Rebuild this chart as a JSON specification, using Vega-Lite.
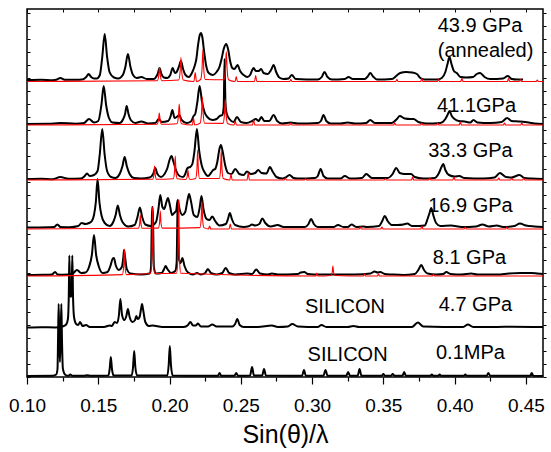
{
"$schema":"https://vega.github.io/schema/vega-lite/v6.json",
"width":516,"height":368,
"autosize":"none",
"padding":{"left":27,"top":9,"right":8,"bottom":75},
"config":{"font":"Liberation Sans","view":{"stroke":"black","strokeWidth":1.5}},
"datasets":{
"blk":[
{"s":"1","x":0.100,"y":297},{"s":"1","x":0.110,"y":297.3},{"s":"1","x":0.118,"y":296.8},{"s":"1","x":0.1205,"y":297.2},{"s":"1","x":0.1234,"y":299},{"s":"1","x":0.1265,"y":297.3},{"s":"1","x":0.134,"y":297.2},{"s":"1","x":0.1395,"y":297.8},{"s":"1","x":0.1415,"y":300},{"s":"1","x":0.1432,"y":303},{"s":"1","x":0.1450,"y":300},{"s":"1","x":0.1470,"y":298.5},{"s":"1","x":0.1490,"y":298.5},{"s":"1","x":0.1511,"y":302},{"s":"1","x":0.1528,"y":320},{"s":"1","x":0.1545,"y":343},{"s":"1","x":0.1562,"y":320},{"s":"1","x":0.1579,"y":305},{"s":"1","x":0.1610,"y":299.5},{"s":"1","x":0.1640,"y":298.5},{"s":"1","x":0.1672,"y":302},{"s":"1","x":0.1690,"y":310},{"s":"1","x":0.1708,"y":323},{"s":"1","x":0.1726,"y":310},{"s":"1","x":0.1744,"y":302},{"s":"1","x":0.1770,"y":299},{"s":"1","x":0.1802,"y":300},{"s":"1","x":0.1840,"y":298},{"s":"1","x":0.1890,"y":298},{"s":"1","x":0.1905,"y":300},{"s":"1","x":0.1917,"y":303},{"s":"1","x":0.1930,"y":309},{"s":"1","x":0.1943,"y":303},{"s":"1","x":0.1960,"y":299.5},{"s":"1","x":0.1985,"y":299},{"s":"1","x":0.2005,"y":302},{"s":"1","x":0.2022,"y":309},{"s":"1","x":0.2038,"y":304},{"s":"1","x":0.2050,"y":305},{"s":"1","x":0.2065,"y":310},{"s":"1","x":0.2080,"y":316},{"s":"1","x":0.2095,"y":308},{"s":"1","x":0.2112,"y":302},{"s":"1","x":0.2135,"y":300},{"s":"1","x":0.2160,"y":305},{"s":"1","x":0.2176,"y":311},{"s":"1","x":0.2188,"y":318},{"s":"1","x":0.2200,"y":332},{"s":"1","x":0.2212,"y":342},{"s":"1","x":0.2220,"y":344},{"s":"1","x":0.2230,"y":340},{"s":"1","x":0.2242,"y":326},{"s":"1","x":0.2256,"y":312},{"s":"1","x":0.2275,"y":304},{"s":"1","x":0.2304,"y":302},{"s":"1","x":0.2330,"y":305},{"s":"1","x":0.2350,"y":310},{"s":"1","x":0.2365,"y":318},{"s":"1","x":0.2380,"y":328},{"s":"1","x":0.2398,"y":333},{"s":"1","x":0.2412,"y":327},{"s":"1","x":0.2425,"y":316},{"s":"1","x":0.2440,"y":309},{"s":"1","x":0.2455,"y":308},{"s":"1","x":0.2477,"y":312},{"s":"1","x":0.2495,"y":306},{"s":"1","x":0.2520,"y":302},{"s":"1","x":0.2545,"y":300},{"s":"1","x":0.2565,"y":302},{"s":"1","x":0.2580,"y":307},{"s":"1","x":0.2590,"y":309},{"s":"1","x":0.2605,"y":306},{"s":"1","x":0.2625,"y":306},{"s":"1","x":0.2643,"y":308},{"s":"1","x":0.2660,"y":304},{"s":"1","x":0.2690,"y":303},{"s":"1","x":0.2712,"y":307},{"s":"1","x":0.2730,"y":312},{"s":"1","x":0.2748,"y":305},{"s":"1","x":0.2770,"y":299.5},{"s":"1","x":0.2800,"y":298},{"s":"1","x":0.2835,"y":298.5},{"s":"1","x":0.2858,"y":302},{"s":"1","x":0.2885,"y":298},{"s":"1","x":0.3040,"y":297.5},{"s":"1","x":0.3068,"y":300},{"s":"1","x":0.3087,"y":305},{"s":"1","x":0.3108,"y":300},{"s":"1","x":0.3140,"y":297.5},{"s":"1","x":0.3230,"y":298},{"s":"1","x":0.3256,"y":300},{"s":"1","x":0.3285,"y":298},{"s":"1","x":0.3370,"y":298},{"s":"1","x":0.3390,"y":300.5},{"s":"1","x":0.3408,"y":304},{"s":"1","x":0.3428,"y":300.5},{"s":"1","x":0.3455,"y":297.5},{"s":"1","x":0.3560,"y":298},{"s":"1","x":0.3590,"y":301},{"s":"1","x":0.3618,"y":304},{"s":"1","x":0.3660,"y":305},{"s":"1","x":0.3700,"y":304.5},{"s":"1","x":0.3735,"y":303},{"s":"1","x":0.3760,"y":299},{"s":"1","x":0.3790,"y":297.5},{"s":"1","x":0.3880,"y":297.5},{"s":"1","x":0.3910,"y":299},{"s":"1","x":0.3935,"y":305},{"s":"1","x":0.3950,"y":313},{"s":"1","x":0.3964,"y":320},{"s":"1","x":0.3978,"y":313},{"s":"1","x":0.3995,"y":306},{"s":"1","x":0.4015,"y":304},{"s":"1","x":0.4040,"y":300},{"s":"1","x":0.4080,"y":299.5},{"s":"1","x":0.4130,"y":300},{"s":"1","x":0.4155,"y":303},{"s":"1","x":0.4179,"y":304},{"s":"1","x":0.4210,"y":300},{"s":"1","x":0.4250,"y":298},{"s":"1","x":0.4340,"y":298.5},{"s":"1","x":0.4373,"y":301},{"s":"1","x":0.4400,"y":298},{"s":"1","x":0.4440,"y":297.5},{"s":"1","x":0.4480,"y":297.5},
{"s":"2","x":0.100,"y":253},{"s":"2","x":0.115,"y":253.2},{"s":"2","x":0.1234,"y":254},{"s":"2","x":0.134,"y":253.3},{"s":"2","x":0.1400,"y":254},{"s":"2","x":0.1435,"y":258},{"s":"2","x":0.1470,"y":254.5},{"s":"2","x":0.1500,"y":256},{"s":"2","x":0.1522,"y":272},{"s":"2","x":0.1538,"y":291},{"s":"2","x":0.1555,"y":272},{"s":"2","x":0.1575,"y":259},{"s":"2","x":0.1600,"y":254.5},{"s":"2","x":0.1650,"y":254},{"s":"2","x":0.1675,"y":258},{"s":"2","x":0.1688,"y":263},{"s":"2","x":0.1699,"y":271},{"s":"2","x":0.1712,"y":263},{"s":"2","x":0.1728,"y":257},{"s":"2","x":0.1760,"y":254},{"s":"2","x":0.1802,"y":255.5},{"s":"2","x":0.1850,"y":253.5},{"s":"2","x":0.1900,"y":254},{"s":"2","x":0.1925,"y":258},{"s":"2","x":0.1945,"y":255},{"s":"2","x":0.1990,"y":256},{"s":"2","x":0.2008,"y":261},{"s":"2","x":0.2020,"y":267},{"s":"2","x":0.2035,"y":259},{"s":"2","x":0.2050,"y":260},{"s":"2","x":0.2068,"y":262},{"s":"2","x":0.2085,"y":257},{"s":"2","x":0.2120,"y":254},{"s":"2","x":0.2150,"y":255.5},{"s":"2","x":0.2169,"y":261},{"s":"2","x":0.2180,"y":263},{"s":"2","x":0.2195,"y":275},{"s":"2","x":0.2211,"y":291},{"s":"2","x":0.2228,"y":275},{"s":"2","x":0.2245,"y":265},{"s":"2","x":0.2265,"y":260},{"s":"2","x":0.2300,"y":257},{"s":"2","x":0.2330,"y":258},{"s":"2","x":0.2352,"y":261},{"s":"2","x":0.2370,"y":262},{"s":"2","x":0.2380,"y":270},{"s":"2","x":0.2386,"y":318},{"s":"2","x":0.2392,"y":275},{"s":"2","x":0.2400,"y":264},{"s":"2","x":0.2420,"y":258},{"s":"2","x":0.2450,"y":255},{"s":"2","x":0.2473,"y":260},{"s":"2","x":0.2500,"y":255},{"s":"2","x":0.2540,"y":254},{"s":"2","x":0.2580,"y":256},{"s":"2","x":0.2605,"y":258},{"s":"2","x":0.2625,"y":256},{"s":"2","x":0.2644,"y":260},{"s":"2","x":0.2665,"y":256},{"s":"2","x":0.2700,"y":256},{"s":"2","x":0.2730,"y":262},{"s":"2","x":0.2755,"y":256},{"s":"2","x":0.2790,"y":253.5},{"s":"2","x":0.2850,"y":254.5},{"s":"2","x":0.2900,"y":253.5},{"s":"2","x":0.3040,"y":254},{"s":"2","x":0.3062,"y":256},{"s":"2","x":0.3080,"y":262},{"s":"2","x":0.3100,"y":256},{"s":"2","x":0.3130,"y":253.5},{"s":"2","x":0.3200,"y":253.5},{"s":"2","x":0.3250,"y":254.5},{"s":"2","x":0.3300,"y":253.5},{"s":"2","x":0.3380,"y":254},{"s":"2","x":0.3408,"y":257},{"s":"2","x":0.3440,"y":254},{"s":"2","x":0.3560,"y":254},{"s":"2","x":0.3595,"y":258},{"s":"2","x":0.3615,"y":261},{"s":"2","x":0.3650,"y":258.5},{"s":"2","x":0.3690,"y":258},{"s":"2","x":0.3712,"y":258},{"s":"2","x":0.3745,"y":255},{"s":"2","x":0.3800,"y":253.5},{"s":"2","x":0.3900,"y":254},{"s":"2","x":0.3935,"y":258},{"s":"2","x":0.3950,"y":262},{"s":"2","x":0.3964,"y":266},{"s":"2","x":0.3980,"y":261},{"s":"2","x":0.4000,"y":258},{"s":"2","x":0.4030,"y":256},{"s":"2","x":0.4070,"y":255.5},{"s":"2","x":0.4110,"y":254.5},{"s":"2","x":0.4132,"y":257},{"s":"2","x":0.4160,"y":254.5},{"s":"2","x":0.4250,"y":254},{"s":"2","x":0.4330,"y":255},{"s":"2","x":0.4368,"y":259},{"s":"2","x":0.4400,"y":256},{"s":"2","x":0.4450,"y":255.5},{"s":"2","x":0.4520,"y":254.5},{"s":"2","x":0.4560,"y":253.5},{"s":"2","x":0.4620,"y":253},
{"s":"3","x":0.100,"y":198},{"s":"3","x":0.110,"y":198.3},{"s":"3","x":0.118,"y":197.8},{"s":"3","x":0.1234,"y":200},{"s":"3","x":0.1290,"y":198.3},{"s":"3","x":0.1380,"y":198.5},{"s":"3","x":0.1405,"y":201},{"s":"3","x":0.1421,"y":203.5},{"s":"3","x":0.1440,"y":201},{"s":"3","x":0.1470,"y":202},{"s":"3","x":0.1495,"y":206},{"s":"3","x":0.1510,"y":222},{"s":"3","x":0.1528,"y":248},{"s":"3","x":0.1545,"y":222},{"s":"3","x":0.1562,"y":206},{"s":"3","x":0.1590,"y":200},{"s":"3","x":0.1620,"y":199},{"s":"3","x":0.1650,"y":203},{"s":"3","x":0.1670,"y":211},{"s":"3","x":0.1685,"y":220},{"s":"3","x":0.1700,"y":211},{"s":"3","x":0.1720,"y":203},{"s":"3","x":0.1750,"y":199},{"s":"3","x":0.1800,"y":198.5},{"s":"3","x":0.1860,"y":199.5},{"s":"3","x":0.1885,"y":203},{"s":"3","x":0.1900,"y":209},{"s":"3","x":0.1915,"y":203},{"s":"3","x":0.1940,"y":200},{"s":"3","x":0.1965,"y":203},{"s":"3","x":0.1985,"y":209},{"s":"3","x":0.2000,"y":217},{"s":"3","x":0.2014,"y":221},{"s":"3","x":0.2028,"y":215},{"s":"3","x":0.2045,"y":207},{"s":"3","x":0.2070,"y":201},{"s":"3","x":0.2095,"y":200},{"s":"3","x":0.2110,"y":203},{"s":"3","x":0.2122,"y":208},{"s":"3","x":0.2132,"y":209.5},{"s":"3","x":0.2145,"y":210},{"s":"3","x":0.2160,"y":213},{"s":"3","x":0.2175,"y":226},{"s":"3","x":0.2192,"y":248},{"s":"3","x":0.2208,"y":226},{"s":"3","x":0.2225,"y":212},{"s":"3","x":0.2245,"y":205},{"s":"3","x":0.2270,"y":201},{"s":"3","x":0.2290,"y":204},{"s":"3","x":0.2306,"y":207},{"s":"3","x":0.2320,"y":208},{"s":"3","x":0.2335,"y":215},{"s":"3","x":0.2350,"y":228},{"s":"3","x":0.2360,"y":232},{"s":"3","x":0.2372,"y":226},{"s":"3","x":0.2390,"y":212},{"s":"3","x":0.2410,"y":204},{"s":"3","x":0.2435,"y":203},{"s":"3","x":0.2461,"y":208},{"s":"3","x":0.2490,"y":203},{"s":"3","x":0.2520,"y":202},{"s":"3","x":0.2543,"y":205.5},{"s":"3","x":0.2570,"y":203},{"s":"3","x":0.2600,"y":204},{"s":"3","x":0.2622,"y":207},{"s":"3","x":0.2645,"y":204},{"s":"3","x":0.2680,"y":203.5},{"s":"3","x":0.2704,"y":210},{"s":"3","x":0.2725,"y":205},{"s":"3","x":0.2750,"y":200},{"s":"3","x":0.2790,"y":198.5},{"s":"3","x":0.2815,"y":199.5},{"s":"3","x":0.2842,"y":202},{"s":"3","x":0.2870,"y":199},{"s":"3","x":0.2900,"y":198.5},{"s":"3","x":0.3020,"y":199},{"s":"3","x":0.3040,"y":201},{"s":"3","x":0.3060,"y":208},{"s":"3","x":0.3080,"y":201},{"s":"3","x":0.3110,"y":198.5},{"s":"3","x":0.3200,"y":198.5},{"s":"3","x":0.3230,"y":201},{"s":"3","x":0.3265,"y":198.5},{"s":"3","x":0.3350,"y":199},{"s":"3","x":0.3380,"y":203},{"s":"3","x":0.3420,"y":199},{"s":"3","x":0.3530,"y":199},{"s":"3","x":0.3565,"y":203},{"s":"3","x":0.3590,"y":209},{"s":"3","x":0.3615,"y":204},{"s":"3","x":0.3650,"y":203},{"s":"3","x":0.3695,"y":203},{"s":"3","x":0.3720,"y":200},{"s":"3","x":0.3780,"y":198.5},{"s":"3","x":0.3860,"y":199},{"s":"3","x":0.3890,"y":204},{"s":"3","x":0.3908,"y":210},{"s":"3","x":0.3920,"y":213},{"s":"3","x":0.3935,"y":207},{"s":"3","x":0.3960,"y":202},{"s":"3","x":0.4000,"y":200.5},{"s":"3","x":0.4033,"y":201},{"s":"3","x":0.4070,"y":199},{"s":"3","x":0.4200,"y":198.5},{"s":"3","x":0.4280,"y":199.5},{"s":"3","x":0.4317,"y":204},{"s":"3","x":0.4360,"y":200},{"s":"3","x":0.4400,"y":199.5},{"s":"3","x":0.4455,"y":202},{"s":"3","x":0.4490,"y":199},{"s":"3","x":0.4540,"y":198.5},{"s":"3","x":0.4620,"y":198},
{"s":"4","x":0.100,"y":149.5},{"s":"4","x":0.115,"y":149.8},{"s":"4","x":0.1190,"y":150},{"s":"4","x":0.1213,"y":152.5},{"s":"4","x":0.1235,"y":150},{"s":"4","x":0.1300,"y":149.8},{"s":"4","x":0.1360,"y":151},{"s":"4","x":0.1383,"y":154},{"s":"4","x":0.1410,"y":153},{"s":"4","x":0.1435,"y":154},{"s":"4","x":0.1455,"y":156},{"s":"4","x":0.1470,"y":162},{"s":"4","x":0.1483,"y":175},{"s":"4","x":0.1495,"y":198},{"s":"4","x":0.1508,"y":175},{"s":"4","x":0.1522,"y":162},{"s":"4","x":0.1545,"y":154},{"s":"4","x":0.1580,"y":151},{"s":"4","x":0.1605,"y":155},{"s":"4","x":0.1622,"y":162},{"s":"4","x":0.1637,"y":171.5},{"s":"4","x":0.1652,"y":162},{"s":"4","x":0.1670,"y":155},{"s":"4","x":0.1710,"y":150.5},{"s":"4","x":0.1755,"y":152},{"s":"4","x":0.1775,"y":160},{"s":"4","x":0.1792,"y":169.5},{"s":"4","x":0.1808,"y":160},{"s":"4","x":0.1830,"y":152.5},{"s":"4","x":0.1870,"y":151},{"s":"4","x":0.1905,"y":155},{"s":"4","x":0.1922,"y":168},{"s":"4","x":0.1935,"y":182},{"s":"4","x":0.1950,"y":170},{"s":"4","x":0.1963,"y":168},{"s":"4","x":0.1978,"y":175},{"s":"4","x":0.1989,"y":179},{"s":"4","x":0.2002,"y":172},{"s":"4","x":0.2018,"y":162},{"s":"4","x":0.2036,"y":164.5},{"s":"4","x":0.2046,"y":166},{"s":"4","x":0.2057,"y":177},{"s":"4","x":0.2070,"y":168},{"s":"4","x":0.2090,"y":162},{"s":"4","x":0.2110,"y":165},{"s":"4","x":0.2125,"y":176},{"s":"4","x":0.2137,"y":183},{"s":"4","x":0.2150,"y":176},{"s":"4","x":0.2170,"y":162},{"s":"4","x":0.2195,"y":160},{"s":"4","x":0.2212,"y":170},{"s":"4","x":0.2224,"y":181},{"s":"4","x":0.2238,"y":168},{"s":"4","x":0.2260,"y":158},{"s":"4","x":0.2280,"y":157},{"s":"4","x":0.2300,"y":160.5},{"s":"4","x":0.2320,"y":156},{"s":"4","x":0.2350,"y":151.5},{"s":"4","x":0.2395,"y":153},{"s":"4","x":0.2410,"y":158},{"s":"4","x":0.2423,"y":164},{"s":"4","x":0.2437,"y":158},{"s":"4","x":0.2460,"y":152},{"s":"4","x":0.2520,"y":150},{"s":"4","x":0.2560,"y":151},{"s":"4","x":0.2578,"y":152.5},{"s":"4","x":0.2600,"y":151.5},{"s":"4","x":0.2630,"y":153},{"s":"4","x":0.2651,"y":158.5},{"s":"4","x":0.2672,"y":154},{"s":"4","x":0.2710,"y":150.5},{"s":"4","x":0.2758,"y":152},{"s":"4","x":0.2800,"y":150},{"s":"4","x":0.2950,"y":150},{"s":"4","x":0.2975,"y":153},{"s":"4","x":0.2993,"y":158},{"s":"4","x":0.3012,"y":153},{"s":"4","x":0.3040,"y":150},{"s":"4","x":0.3150,"y":150},{"s":"4","x":0.3182,"y":152},{"s":"4","x":0.3220,"y":150},{"s":"4","x":0.3250,"y":150},{"s":"4","x":0.3277,"y":152.5},{"s":"4","x":0.3310,"y":150},{"s":"4","x":0.3360,"y":150.5},{"s":"4","x":0.3384,"y":150},{"s":"4","x":0.3470,"y":151},{"s":"4","x":0.3492,"y":156},{"s":"4","x":0.3510,"y":161},{"s":"4","x":0.3530,"y":156},{"s":"4","x":0.3560,"y":152},{"s":"4","x":0.3600,"y":152},{"s":"4","x":0.3641,"y":152.5},{"s":"4","x":0.3668,"y":153.5},{"s":"4","x":0.3700,"y":151},{"s":"4","x":0.3750,"y":151},{"s":"4","x":0.3790,"y":151.5},{"s":"4","x":0.3810,"y":158},{"s":"4","x":0.3824,"y":164},{"s":"4","x":0.3836,"y":169},{"s":"4","x":0.3850,"y":162},{"s":"4","x":0.3870,"y":154},{"s":"4","x":0.3900,"y":151},{"s":"4","x":0.3975,"y":151.5},{"s":"4","x":0.4050,"y":150},{"s":"4","x":0.4150,"y":150.5},{"s":"4","x":0.4195,"y":152.5},{"s":"4","x":0.4240,"y":150.5},{"s":"4","x":0.4296,"y":151.5},{"s":"4","x":0.4340,"y":150},{"s":"4","x":0.4420,"y":151},{"s":"4","x":0.4458,"y":153.5},{"s":"4","x":0.4500,"y":151.5},{"s":"4","x":0.4560,"y":150.5},{"s":"4","x":0.4620,"y":150},
{"s":"5","x":0.100,"y":102},{"s":"5","x":0.112,"y":102.2},{"s":"5","x":0.1175,"y":102.5},{"s":"5","x":0.1197,"y":105},{"s":"5","x":0.1215,"y":102.5},{"s":"5","x":0.1250,"y":102.3},{"s":"5","x":0.1320,"y":103.5},{"s":"5","x":0.1351,"y":107},{"s":"5","x":0.1380,"y":104},{"s":"5","x":0.1410,"y":104.5},{"s":"5","x":0.1435,"y":110},{"s":"5","x":0.1455,"y":122},{"s":"5","x":0.1470,"y":142},{"s":"5","x":0.1485,"y":122},{"s":"5","x":0.1505,"y":110},{"s":"5","x":0.1530,"y":104},{"s":"5","x":0.1565,"y":105},{"s":"5","x":0.1585,"y":111},{"s":"5","x":0.1600,"y":118},{"s":"5","x":0.1610,"y":119},{"s":"5","x":0.1622,"y":112},{"s":"5","x":0.1645,"y":107},{"s":"5","x":0.1665,"y":110},{"s":"5","x":0.1676,"y":120},{"s":"5","x":0.1681,"y":127},{"s":"5","x":0.1688,"y":120},{"s":"5","x":0.1700,"y":108},{"s":"5","x":0.1725,"y":103.5},{"s":"5","x":0.1800,"y":102.5},{"s":"5","x":0.1860,"y":103.5},{"s":"5","x":0.1870,"y":110},{"s":"5","x":0.1875,"y":150},{"s":"5","x":0.1878,"y":170},{"s":"5","x":0.1882,"y":170},{"s":"5","x":0.1885,"y":150},{"s":"5","x":0.1890,"y":110},{"s":"5","x":0.1905,"y":103.5},{"s":"5","x":0.1945,"y":104},{"s":"5","x":0.1962,"y":108},{"s":"5","x":0.1972,"y":111},{"s":"5","x":0.1985,"y":108},{"s":"5","x":0.2010,"y":104},{"s":"5","x":0.2040,"y":106},{"s":"5","x":0.2050,"y":115},{"s":"5","x":0.2054,"y":150},{"s":"5","x":0.2057,"y":174},{"s":"5","x":0.2060,"y":150},{"s":"5","x":0.2066,"y":118},{"s":"5","x":0.2078,"y":114},{"s":"5","x":0.2090,"y":119},{"s":"5","x":0.2105,"y":111},{"s":"5","x":0.2130,"y":104.5},{"s":"5","x":0.2165,"y":102.5},{"s":"5","x":0.2192,"y":104},{"s":"5","x":0.2220,"y":102.5},{"s":"5","x":0.2250,"y":104},{"s":"5","x":0.2269,"y":108},{"s":"5","x":0.2290,"y":104},{"s":"5","x":0.2330,"y":102.5},{"s":"5","x":0.2370,"y":104},{"s":"5","x":0.2394,"y":109},{"s":"5","x":0.2418,"y":104},{"s":"5","x":0.2460,"y":102.5},{"s":"5","x":0.2543,"y":103.5},{"s":"5","x":0.2580,"y":103},{"s":"5","x":0.2608,"y":107.5},{"s":"5","x":0.2635,"y":103.5},{"s":"5","x":0.2690,"y":102.5},{"s":"5","x":0.2718,"y":103.5},{"s":"5","x":0.2760,"y":102.5},{"s":"5","x":0.2900,"y":103},{"s":"5","x":0.2920,"y":104.5},{"s":"5","x":0.2945,"y":105},{"s":"5","x":0.2970,"y":103},{"s":"5","x":0.3050,"y":102.5},{"s":"5","x":0.3300,"y":102.5},{"s":"5","x":0.3410,"y":103.5},{"s":"5","x":0.3438,"y":105.5},{"s":"5","x":0.3460,"y":104.5},{"s":"5","x":0.3478,"y":105},{"s":"5","x":0.3510,"y":103},{"s":"5","x":0.3560,"y":102.5},{"s":"5","x":0.3640,"y":102},{"s":"5","x":0.3720,"y":103},{"s":"5","x":0.3745,"y":107},{"s":"5","x":0.3766,"y":112},{"s":"5","x":0.3785,"y":107},{"s":"5","x":0.3810,"y":103.5},{"s":"5","x":0.3870,"y":102.5},{"s":"5","x":0.3920,"y":103},{"s":"5","x":0.3942,"y":105},{"s":"5","x":0.3970,"y":103},{"s":"5","x":0.4050,"y":102.5},{"s":"5","x":0.4116,"y":103.5},{"s":"5","x":0.4160,"y":102.5},{"s":"5","x":0.4300,"y":102.5},{"s":"5","x":0.4380,"y":103.5},{"s":"5","x":0.4460,"y":104},{"s":"5","x":0.4540,"y":104},{"s":"5","x":0.4580,"y":103.5},{"s":"5","x":0.4620,"y":103},
{"s":"6","x":0.100,"y":49.5},{"s":"6","x":0.110,"y":49.8},{"s":"6","x":0.120,"y":49.5},{"s":"6","x":0.1250,"y":50.5},{"s":"6","x":0.1275,"y":52.5},{"s":"6","x":0.1287,"y":58},{"s":"6","x":0.1293,"y":80},{"s":"6","x":0.1297,"y":121.5},{"s":"6","x":0.1302,"y":85},{"s":"6","x":0.1308,"y":80},{"s":"6","x":0.1313,"y":85},{"s":"6","x":0.1318,"y":121.5},{"s":"6","x":0.1323,"y":80},{"s":"6","x":0.1330,"y":60},{"s":"6","x":0.1345,"y":53},{"s":"6","x":0.1360,"y":52},{"s":"6","x":0.1372,"y":55},{"s":"6","x":0.1390,"y":51},{"s":"6","x":0.1414,"y":52},{"s":"6","x":0.1440,"y":50},{"s":"6","x":0.1540,"y":50},{"s":"6","x":0.1580,"y":51.5},{"s":"6","x":0.1595,"y":51},{"s":"6","x":0.1615,"y":55},{"s":"6","x":0.1632,"y":54},{"s":"6","x":0.1645,"y":62},{"s":"6","x":0.1655,"y":78},{"s":"6","x":0.1667,"y":62},{"s":"6","x":0.1682,"y":57},{"s":"6","x":0.1697,"y":61},{"s":"6","x":0.1708,"y":68},{"s":"6","x":0.1720,"y":60},{"s":"6","x":0.1740,"y":55},{"s":"6","x":0.1758,"y":57},{"s":"6","x":0.1767,"y":61},{"s":"6","x":0.1777,"y":58},{"s":"6","x":0.1790,"y":60},{"s":"6","x":0.1800,"y":68},{"s":"6","x":0.1807,"y":73},{"s":"6","x":0.1815,"y":67},{"s":"6","x":0.1830,"y":55},{"s":"6","x":0.1855,"y":51},{"s":"6","x":0.1880,"y":51.5},{"s":"6","x":0.1950,"y":50},{"s":"6","x":0.2100,"y":50},{"s":"6","x":0.2130,"y":52},{"s":"6","x":0.2146,"y":55},{"s":"6","x":0.2165,"y":51.5},{"s":"6","x":0.2185,"y":51.5},{"s":"6","x":0.2199,"y":53.5},{"s":"6","x":0.2220,"y":50.5},{"s":"6","x":0.2270,"y":50.5},{"s":"6","x":0.2300,"y":52.5},{"s":"6","x":0.2330,"y":50.5},{"s":"6","x":0.2440,"y":50.5},{"s":"6","x":0.2460,"y":53},{"s":"6","x":0.2475,"y":58},{"s":"6","x":0.2492,"y":52},{"s":"6","x":0.2520,"y":50},{"s":"6","x":0.2620,"y":50},{"s":"6","x":0.2718,"y":51.5},{"s":"6","x":0.2760,"y":50},{"s":"6","x":0.2830,"y":50.5},{"s":"6","x":0.2861,"y":53},{"s":"6","x":0.2900,"y":50.5},{"s":"6","x":0.3040,"y":50},{"s":"6","x":0.3066,"y":52},{"s":"6","x":0.3100,"y":50},{"s":"6","x":0.3250,"y":50},{"s":"6","x":0.3290,"y":51},{"s":"6","x":0.3330,"y":50},{"s":"6","x":0.3700,"y":50},{"s":"6","x":0.3742,"y":54.5},{"s":"6","x":0.3780,"y":50.5},{"s":"6","x":0.4060,"y":50},{"s":"6","x":0.4093,"y":52.5},{"s":"6","x":0.4130,"y":50},{"s":"6","x":0.4300,"y":50},{"s":"6","x":0.4400,"y":50.3},{"s":"6","x":0.4620,"y":50},
{"s":"7","x":0.100,"y":1},{"s":"7","x":0.1180,"y":1.2},{"s":"7","x":0.1205,"y":2.5},{"s":"7","x":0.1214,"y":8},{"s":"7","x":0.1218,"y":40},{"s":"7","x":0.1222,"y":73},{"s":"7","x":0.1226,"y":40},{"s":"7","x":0.1231,"y":15},{"s":"7","x":0.1236,"y":40},{"s":"7","x":0.1241,"y":73},{"s":"7","x":0.1245,"y":40},{"s":"7","x":0.1252,"y":8},{"s":"7","x":0.1270,"y":2},{"s":"7","x":0.1290,"y":1.2},{"s":"7","x":0.1304,"y":2.5},{"s":"7","x":0.1318,"y":1.2},{"s":"7","x":0.1400,"y":1.3},{"s":"7","x":0.1420,"y":1.8},{"s":"7","x":0.1450,"y":1.2},{"s":"7","x":0.1570,"y":1.5},{"s":"7","x":0.1580,"y":8},{"s":"7","x":0.1588,"y":20},{"s":"7","x":0.1596,"y":8},{"s":"7","x":0.1608,"y":1.5},{"s":"7","x":0.1735,"y":1.5},{"s":"7","x":0.1744,"y":10},{"s":"7","x":0.1752,"y":26},{"s":"7","x":0.1760,"y":10},{"s":"7","x":0.1772,"y":1.5},{"s":"7","x":0.1985,"y":1.5},{"s":"7","x":0.1994,"y":12},{"s":"7","x":0.2002,"y":31},{"s":"7","x":0.2010,"y":12},{"s":"7","x":0.2022,"y":1.5},{"s":"7","x":0.2200,"y":1.2},{"s":"7","x":0.2340,"y":1.3},{"s":"7","x":0.2351,"y":4},{"s":"7","x":0.2362,"y":1.3},{"s":"7","x":0.2455,"y":1.3},{"s":"7","x":0.2468,"y":4},{"s":"7","x":0.2480,"y":1.3},{"s":"7","x":0.2565,"y":1.5},{"s":"7","x":0.2579,"y":10},{"s":"7","x":0.2592,"y":1.5},{"s":"7","x":0.2650,"y":1.5},{"s":"7","x":0.2663,"y":8},{"s":"7","x":0.2676,"y":1.5},{"s":"7","x":0.2930,"y":1.3},{"s":"7","x":0.2943,"y":7},{"s":"7","x":0.2956,"y":1.3},{"s":"7","x":0.3080,"y":1.3},{"s":"7","x":0.3094,"y":7},{"s":"7","x":0.3108,"y":1.3},{"s":"7","x":0.3240,"y":1.3},{"s":"7","x":0.3253,"y":5},{"s":"7","x":0.3266,"y":1.3},{"s":"7","x":0.3320,"y":1.3},{"s":"7","x":0.3333,"y":8},{"s":"7","x":0.3346,"y":1.3},{"s":"7","x":0.3490,"y":1.3},{"s":"7","x":0.3500,"y":3},{"s":"7","x":0.3510,"y":1.3},{"s":"7","x":0.3555,"y":1.3},{"s":"7","x":0.3566,"y":3},{"s":"7","x":0.3577,"y":1.3},{"s":"7","x":0.3634,"y":1.3},{"s":"7","x":0.3646,"y":5},{"s":"7","x":0.3658,"y":1.3},{"s":"7","x":0.3830,"y":1.2},{"s":"7","x":0.3840,"y":2.5},{"s":"7","x":0.3850,"y":1.2},{"s":"7","x":0.3885,"y":1.2},{"s":"7","x":0.3895,"y":2.5},{"s":"7","x":0.3905,"y":1.2},{"s":"7","x":0.4065,"y":1.2},{"s":"7","x":0.4075,"y":2.5},{"s":"7","x":0.4085,"y":1.2},{"s":"7","x":0.4225,"y":1.2},{"s":"7","x":0.4237,"y":4},{"s":"7","x":0.4249,"y":1.2},{"s":"7","x":0.4530,"y":1.2},{"s":"7","x":0.4541,"y":4},{"s":"7","x":0.4552,"y":1.2},{"s":"7","x":0.4620,"y":1}
],
"red":[
{"s":"1","x":0.100,"y":295.5},{"s":"1","x":0.1914,"y":296.3},{"s":"1","x":0.1924,"y":301},{"s":"1","x":0.1930,"y":309.5},{"s":"1","x":0.1936,"y":301},{"s":"1","x":0.1946,"y":296.3},{"s":"1","x":0.2064,"y":297},{"s":"1","x":0.2074,"y":305},{"s":"1","x":0.2080,"y":319.5},{"s":"1","x":0.2086,"y":305},{"s":"1","x":0.2096,"y":297},{"s":"1","x":0.2171,"y":295.5},{"s":"1","x":0.2180,"y":304.5},{"s":"1","x":0.2189,"y":295.5},{"s":"1","x":0.2218,"y":297.5},{"s":"1","x":0.2228,"y":308},{"s":"1","x":0.2234,"y":327.5},{"s":"1","x":0.2240,"y":308},{"s":"1","x":0.2250,"y":297.5},{"s":"1","x":0.2382,"y":297.3},{"s":"1","x":0.2392,"y":307.5},{"s":"1","x":0.2398,"y":325.5},{"s":"1","x":0.2404,"y":307.5},{"s":"1","x":0.2414,"y":297.3},{"s":"1","x":0.2460,"y":295.5},{"s":"1","x":0.2468,"y":300.5},{"s":"1","x":0.2476,"y":295.5},{"s":"1","x":0.2596,"y":295.5},{"s":"1","x":0.2604,"y":301.5},{"s":"1","x":0.2612,"y":295.5},{"s":"1","x":0.2843,"y":295.5},{"s":"1","x":0.2851,"y":297.5},{"s":"1","x":0.2859,"y":295.5},{"s":"1","x":0.3587,"y":295.5},{"s":"1","x":0.3595,"y":297.5},{"s":"1","x":0.3603,"y":295.5},{"s":"1","x":0.3762,"y":295.5},{"s":"1","x":0.3770,"y":298.5},{"s":"1","x":0.3778,"y":295.5},{"s":"1","x":0.3879,"y":295.5},{"s":"1","x":0.3887,"y":297.5},{"s":"1","x":0.3895,"y":295.5},{"s":"1","x":0.4043,"y":295.5},{"s":"1","x":0.4051,"y":298.5},{"s":"1","x":0.4059,"y":295.5},{"s":"1","x":0.4370,"y":295.5},{"s":"1","x":0.4378,"y":298.5},{"s":"1","x":0.4386,"y":295.5},{"s":"1","x":0.4452,"y":295.5},{"s":"1","x":0.4460,"y":297.5},{"s":"1","x":0.4468,"y":295.5},{"s":"1","x":0.4572,"y":295.5},{"s":"1","x":0.4580,"y":297},{"s":"1","x":0.4588,"y":295.5},{"s":"1","x":0.462,"y":295.5},
{"s":"2","x":0.100,"y":252},{"s":"2","x":0.1912,"y":252.7},{"s":"2","x":0.1922,"y":256.8},{"s":"2","x":0.1928,"y":264},{"s":"2","x":0.1934,"y":256.8},{"s":"2","x":0.1944,"y":252.7},{"s":"2","x":0.2052,"y":253.3},{"s":"2","x":0.2062,"y":260.4},{"s":"2","x":0.2068,"y":273},{"s":"2","x":0.2074,"y":260.4},{"s":"2","x":0.2084,"y":253.3},{"s":"2","x":0.2160,"y":252},{"s":"2","x":0.2168,"y":259},{"s":"2","x":0.2176,"y":252},{"s":"2","x":0.2214,"y":253.7},{"s":"2","x":0.2224,"y":263.2},{"s":"2","x":0.2230,"y":280},{"s":"2","x":0.2236,"y":263.2},{"s":"2","x":0.2246,"y":253.7},{"s":"2","x":0.2375,"y":253.6},{"s":"2","x":0.2385,"y":262.4},{"s":"2","x":0.2391,"y":278},{"s":"2","x":0.2397,"y":262.4},{"s":"2","x":0.2407,"y":253.6},{"s":"2","x":0.2453,"y":252},{"s":"2","x":0.2461,"y":256},{"s":"2","x":0.2469,"y":252},{"s":"2","x":0.2582,"y":252},{"s":"2","x":0.2590,"y":257},{"s":"2","x":0.2598,"y":252},{"s":"2","x":0.2843,"y":252},{"s":"2","x":0.2851,"y":254},{"s":"2","x":0.2859,"y":252},{"s":"2","x":0.3572,"y":252},{"s":"2","x":0.3580,"y":254},{"s":"2","x":0.3588,"y":252},{"s":"2","x":0.3762,"y":252},{"s":"2","x":0.3770,"y":254},{"s":"2","x":0.3778,"y":252},{"s":"2","x":0.3874,"y":252},{"s":"2","x":0.3882,"y":254},{"s":"2","x":0.3890,"y":252},{"s":"2","x":0.4032,"y":252},{"s":"2","x":0.4040,"y":255},{"s":"2","x":0.4048,"y":252},{"s":"2","x":0.4342,"y":252},{"s":"2","x":0.4350,"y":254},{"s":"2","x":0.4358,"y":252},{"s":"2","x":0.4463,"y":252},{"s":"2","x":0.4471,"y":254},{"s":"2","x":0.4479,"y":252},{"s":"2","x":0.462,"y":252},
{"s":"3","x":0.100,"y":197},{"s":"3","x":0.1881,"y":197.7},{"s":"3","x":0.1890,"y":201.9},{"s":"3","x":0.1895,"y":211},{"s":"3","x":0.1900,"y":201.9},{"s":"3","x":0.1909,"y":197.7},{"s":"3","x":0.2026,"y":198.2},{"s":"3","x":0.2035,"y":205.4},{"s":"3","x":0.2040,"y":221},{"s":"3","x":0.2045,"y":205.4},{"s":"3","x":0.2054,"y":198.2},{"s":"3","x":0.2115,"y":197.5},{"s":"3","x":0.2124,"y":200.5},{"s":"3","x":0.2129,"y":207},{"s":"3","x":0.2134,"y":200.5},{"s":"3","x":0.2143,"y":197.5},{"s":"3","x":0.2183,"y":198.5},{"s":"3","x":0.2192,"y":207.5},{"s":"3","x":0.2197,"y":227},{"s":"3","x":0.2202,"y":207.5},{"s":"3","x":0.2211,"y":198.5},{"s":"3","x":0.2349,"y":198.5},{"s":"3","x":0.2358,"y":207.5},{"s":"3","x":0.2363,"y":227},{"s":"3","x":0.2368,"y":207.5},{"s":"3","x":0.2377,"y":198.5},{"s":"3","x":0.2423,"y":197},{"s":"3","x":0.2431,"y":203},{"s":"3","x":0.2439,"y":197},{"s":"3","x":0.2544,"y":197},{"s":"3","x":0.2552,"y":204},{"s":"3","x":0.2560,"y":197},{"s":"3","x":0.2804,"y":197},{"s":"3","x":0.2812,"y":199},{"s":"3","x":0.2820,"y":197},{"s":"3","x":0.2946,"y":197},{"s":"3","x":0.2954,"y":198.5},{"s":"3","x":0.2962,"y":197},{"s":"3","x":0.3506,"y":197},{"s":"3","x":0.3514,"y":198.5},{"s":"3","x":0.3522,"y":197},{"s":"3","x":0.3697,"y":197},{"s":"3","x":0.3705,"y":200},{"s":"3","x":0.3713,"y":197},{"s":"3","x":0.3818,"y":197},{"s":"3","x":0.3826,"y":199},{"s":"3","x":0.3834,"y":197},{"s":"3","x":0.3987,"y":197},{"s":"3","x":0.3995,"y":200},{"s":"3","x":0.4003,"y":197},{"s":"3","x":0.4302,"y":197},{"s":"3","x":0.4310,"y":199},{"s":"3","x":0.4318,"y":197},{"s":"3","x":0.4393,"y":197},{"s":"3","x":0.4401,"y":199},{"s":"3","x":0.4409,"y":197},{"s":"3","x":0.4477,"y":197},{"s":"3","x":0.4485,"y":199},{"s":"3","x":0.4493,"y":197},{"s":"3","x":0.462,"y":197},
{"s":"4","x":0.100,"y":148},{"s":"4","x":0.1781,"y":148.7},{"s":"4","x":0.1790,"y":152.9},{"s":"4","x":0.1795,"y":162},{"s":"4","x":0.1800,"y":152.9},{"s":"4","x":0.1809,"y":148.7},{"s":"4","x":0.1921,"y":148.9},{"s":"4","x":0.1930,"y":154.3},{"s":"4","x":0.1935,"y":166},{"s":"4","x":0.1940,"y":154.3},{"s":"4","x":0.1949,"y":148.9},{"s":"4","x":0.2213,"y":149.4},{"s":"4","x":0.2222,"y":157.8},{"s":"4","x":0.2227,"y":176},{"s":"4","x":0.2232,"y":157.8},{"s":"4","x":0.2241,"y":149.4},{"s":"4","x":0.2273,"y":148},{"s":"4","x":0.2281,"y":151},{"s":"4","x":0.2289,"y":148},{"s":"4","x":0.2418,"y":148},{"s":"4","x":0.2426,"y":153},{"s":"4","x":0.2434,"y":148},{"s":"4","x":0.3330,"y":148},{"s":"4","x":0.3338,"y":150},{"s":"4","x":0.3346,"y":148},{"s":"4","x":0.3482,"y":148},{"s":"4","x":0.3490,"y":150},{"s":"4","x":0.3498,"y":148},{"s":"4","x":0.3762,"y":148},{"s":"4","x":0.3770,"y":151},{"s":"4","x":0.3778,"y":148},{"s":"4","x":0.4066,"y":148},{"s":"4","x":0.4074,"y":150},{"s":"4","x":0.4082,"y":148},{"s":"4","x":0.4358,"y":148},{"s":"4","x":0.4366,"y":150},{"s":"4","x":0.4374,"y":148},{"s":"4","x":0.462,"y":148},
{"s":"5","x":0.100,"y":101},{"s":"5","x":0.1669,"y":102.4},{"s":"5","x":0.1678,"y":110.5},{"s":"5","x":0.1683,"y":128},{"s":"5","x":0.1688,"y":110.5},{"s":"5","x":0.1697,"y":102.4},{"s":"5","x":0.1866,"y":103.5},{"s":"5","x":0.1874,"y":112},{"s":"5","x":0.1878,"y":140},{"s":"5","x":0.1880,"y":170},{"s":"5","x":0.1882,"y":170},{"s":"5","x":0.1884,"y":140},{"s":"5","x":0.1888,"y":112},{"s":"5","x":0.1896,"y":103.5},{"s":"5","x":0.2049,"y":103.8},{"s":"5","x":0.2057,"y":114},{"s":"5","x":0.2061,"y":145},{"s":"5","x":0.2063,"y":177},{"s":"5","x":0.2065,"y":177},{"s":"5","x":0.2067,"y":145},{"s":"5","x":0.2071,"y":114},{"s":"5","x":0.2079,"y":103.8},{"s":"5","x":0.3026,"y":101},{"s":"5","x":0.3034,"y":104},{"s":"5","x":0.3042,"y":101},{"s":"5","x":0.3132,"y":101.5},{"s":"5","x":0.3141,"y":104.5},{"s":"5","x":0.3146,"y":111},{"s":"5","x":0.3151,"y":104.5},{"s":"5","x":0.3160,"y":101.5},{"s":"5","x":0.3360,"y":101},{"s":"5","x":0.3368,"y":103},{"s":"5","x":0.3376,"y":101},{"s":"5","x":0.3458,"y":101},{"s":"5","x":0.3466,"y":103},{"s":"5","x":0.3474,"y":101},{"s":"5","x":0.3844,"y":101},{"s":"5","x":0.3852,"y":103},{"s":"5","x":0.3860,"y":101},{"s":"5","x":0.462,"y":101}
],
"txt":[
{"t":"43.9 GPa","x":0.4178,"y":345.3},
{"t":"(annealed)","x":0.4217,"y":319.7},
{"t":"41.1GPa","x":0.4154,"y":265.3},
{"t":"33.3 GPa","x":0.4111,"y":219.7},
{"t":"16.9 GPa","x":0.4111,"y":165.3},
{"t":"8.1 GPa","x":0.4104,"y":113},
{"t":"SILICON","x":0.3231,"y":63.7},
{"t":"4.7 GPa","x":0.4146,"y":66.3},
{"t":"SILICON","x":0.3249,"y":16.3},
{"t":"0.1MPa","x":0.4111,"y":17.7}
]
},
"layer":[
{"data":{"name":"blk"},
 "mark":{"type":"line","color":"black","strokeWidth":2,"interpolate":"monotone"},
 "encoding":{
  "x":{"field":"x","type":"quantitative","scale":{"domain":[0.1,0.462],"nice":false,"zero":false},
   "axis":{"orient":"bottom","values":[0.1,0.125,0.15,0.175,0.2,0.225,0.25,0.275,0.3,0.325,0.35,0.375,0.4,0.425,0.45],
    "labelExpr":"round(datum.value*1000) % 50 == 0 ? format(datum.value, '.2f') : ''",
    "tickSize":{"condition":{"test":"round(datum.value*1000) % 50 == 0","value":7},"value":4},
    "tickColor":"black","tickWidth":1.2,"domain":false,"grid":false,
    "labelFontSize":19,"labelColor":"black","labelPadding":12,"labelFlush":false,"labelOverlap":false,
    "title":"Sin(θ)/λ","titleFontSize":25,"titleFontWeight":"normal","titleColor":"black","titlePadding":7}},
  "y":{"field":"y","type":"quantitative","scale":{"domain":[0,368],"nice":false,"zero":false},
   "axis":{"orient":"left","values":[0,13,26,39,52,65,78,91,104,117,130,143,156,169,182,195,208,221,234,247,260,273,286,299,312,325,338,351,364],
    "labels":false,"tickSize":-3,"tickColor":"black","domain":false,"grid":false,"title":null}},
  "detail":{"field":"s","type":"nominal"}
 }},
{"data":{"name":"red"},
 "mark":{"type":"line","color":"#ff0000","strokeWidth":1.1,"interpolate":"monotone"},
 "encoding":{
  "x":{"field":"x","type":"quantitative",
   "axis":{"orient":"top","values":[0.1,0.125,0.15,0.175,0.2,0.225,0.25,0.275,0.3,0.325,0.35,0.375,0.4,0.425,0.45],
    "labels":false,"tickSize":-3,"tickColor":"black","domain":false,"grid":false,"title":null}},
  "y":{"field":"y","type":"quantitative",
   "axis":{"orient":"right","values":[0,13,26,39,52,65,78,91,104,117,130,143,156,169,182,195,208,221,234,247,260,273,286,299,312,325,338,351,364],
    "labels":false,"tickSize":3,"tickColor":"black","domain":false,"grid":false,"title":null}},
  "detail":{"field":"s","type":"nominal"}
 }},
{"data":{"name":"txt"},
 "mark":{"type":"text","fontSize":20,"baseline":"alphabetic","align":"center","color":"black"},
 "encoding":{
  "x":{"field":"x","type":"quantitative","axis":null},
  "y":{"field":"y","type":"quantitative","axis":null},
  "text":{"field":"t","type":"nominal"}
 }}
],
"resolve":{"axis":{"x":"independent","y":"independent"}}
}
